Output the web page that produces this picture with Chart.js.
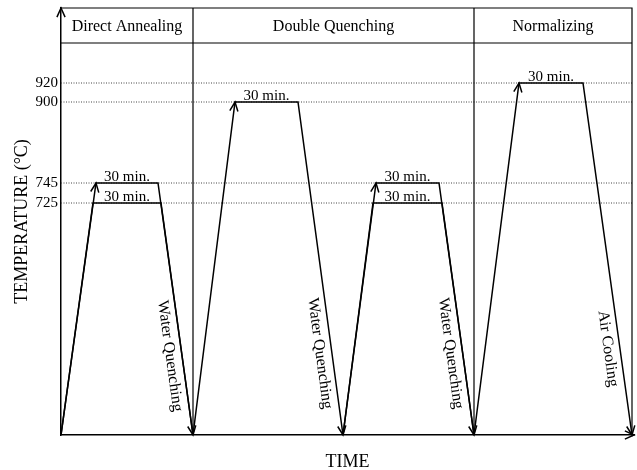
<!DOCTYPE html>
<html>
<head>
<meta charset="utf-8">
<script src="https://cdn.jsdelivr.net/npm/chart.js@4.4.1/dist/chart.umd.min.js"></script>
<style>
  html, body { margin: 0; padding: 0; background: #fff; }
  #wrap { width: 637px; height: 470px; }
</style>
</head>
<body>
<div id="wrap"><canvas id="heat"></canvas></div>
<script>
"use strict";

// temperature levels marked on the axis (°C)
const levels = [725, 745, 900, 920];
const levelLabels = ["725", "745", "900", "920"];
// the axis is schematic, not to scale: height of each level above the time axis
const levelPos = [232, 252, 333, 352];
const startTemp = 25;

const phases = ["Direct Annealing", "Double Quenching", "Normalizing"];
const phaseEdges = [0, 132, 413, 571];

// time points (arbitrary units) and temperatures of each cycle
const daTime = [0, 35, 97, 132];
const daTemp = [startTemp, 745, 745, startTemp];
const daLowTime = [0, 32, 100, 132];
const daLowTemp = [startTemp, 725, 725, startTemp];
const dq1Time = [132, 174, 237, 282];
const dq1Temp = [startTemp, 900, 900, startTemp];
const dq2Time = [282, 315, 378, 413];
const dq2Temp = [startTemp, 745, 745, startTemp];
const dq2LowTime = [282, 312, 381, 413];
const dq2LowTemp = [startTemp, 725, 725, startTemp];
const nTime = [413, 458, 522, 571];
const nTemp = [startTemp, 920, 920, startTemp];

const holdText = "30 min.";

const serif = '"Liberation Serif", "Times New Roman", serif';
Chart.defaults.font.family = serif;
Chart.defaults.color = "#000";

// piecewise map temperature -> axis height
const knotT = [startTemp].concat(levels);
const knotP = [0].concat(levelPos);
function sy(t) {
  for (let i = 1; i < knotT.length; i++) {
    if (t <= knotT[i]) {
      const f = (t - knotT[i - 1]) / (knotT[i] - knotT[i - 1]);
      return knotP[i - 1] + f * (knotP[i] - knotP[i - 1]);
    }
  }
  return knotP[knotP.length - 1];
}

function cycle(time, temp, extra) {
  return Object.assign({
    data: time.map((x, i) => ({ x: x, y: sy(temp[i]) })),
    showLine: true,
    borderColor: "#000",
    borderWidth: 1.5,
    pointRadius: 0,
    tension: 0,
    fill: false,
  }, extra);
}

const datasets = [
  cycle(daTime, daTemp, { arrows: true, hold: holdText, cool: "Water Quenching", coolAt: 0.68 }),
  cycle(daLowTime, daLowTemp, { hold: holdText }),
  cycle(dq1Time, dq1Temp, { arrows: true, hold: holdText, cool: "Water Quenching", coolAt: 0.75 }),
  cycle(dq2Time, dq2Temp, { arrows: true, hold: holdText, cool: "Water Quenching", coolAt: 0.67 }),
  cycle(dq2LowTime, dq2LowTemp, { hold: holdText }),
  cycle(nTime, nTemp, { arrows: true, hold: holdText, cool: "Air Cooling", coolAt: 0.75 }),
];

// dotted reference lines at each level
levels.forEach((t) => {
  datasets.push({
    data: [{ x: phaseEdges[0], y: sy(t) }, { x: phaseEdges[3], y: sy(t) }],
    showLine: true,
    borderColor: "#444",
    borderWidth: 1,
    borderDash: [1, 1.5],
    pointRadius: 0,
  });
});

function arrowHead(ctx, x0, y0, x1, y1) {
  const a = Math.atan2(y1 - y0, x1 - x0);
  const len = 10, spread = 0.42;
  ctx.beginPath();
  ctx.moveTo(x1 - len * Math.cos(a - spread), y1 - len * Math.sin(a - spread));
  ctx.lineTo(x1, y1);
  ctx.lineTo(x1 - len * Math.cos(a + spread), y1 - len * Math.sin(a + spread));
  ctx.stroke();
}

const schematic = {
  id: "schematic",
  afterDatasetsDraw(chart) {
    const ctx = chart.ctx;
    const area = chart.chartArea;
    const xs = chart.scales.x;
    const headBottom = area.top + 35;
    const right = xs.getPixelForValue(phaseEdges[3]);

    ctx.save();
    ctx.strokeStyle = "#000";
    ctx.fillStyle = "#000";
    ctx.lineWidth = 1.2;

    // frame and phase dividers
    ctx.beginPath();
    ctx.moveTo(area.left, area.top);
    ctx.lineTo(right, area.top);
    ctx.lineTo(right, area.bottom);
    ctx.moveTo(area.left, headBottom);
    ctx.lineTo(right, headBottom);
    [phaseEdges[1], phaseEdges[2]].forEach((t) => {
      const px = xs.getPixelForValue(t);
      ctx.moveTo(px, area.top);
      ctx.lineTo(px, area.bottom);
    });
    ctx.stroke();

    ctx.font = "16px " + serif;
    ctx.textAlign = "center";
    ctx.textBaseline = "middle";
    phases.forEach((p, i) => {
      const cx = (xs.getPixelForValue(phaseEdges[i]) + xs.getPixelForValue(phaseEdges[i + 1])) / 2;
      ctx.fillText(p, cx, (area.top + headBottom) / 2 + 1);
    });

    // axis arrows
    ctx.lineWidth = 1.5;
    arrowHead(ctx, area.left, area.bottom, area.left, area.top);
    arrowHead(ctx, area.left, area.bottom, area.right, area.bottom);

    chart.data.datasets.forEach((ds, di) => {
      const pts = chart.getDatasetMeta(di).data;
      if (ds.arrows) {
        arrowHead(ctx, pts[0].x, pts[0].y, pts[1].x, pts[1].y);
        arrowHead(ctx, pts[2].x, pts[2].y, pts[3].x, pts[3].y);
      }
      if (ds.hold) {
        ctx.font = "15px " + serif;
        ctx.textBaseline = "alphabetic";
        ctx.fillText(ds.hold, (pts[1].x + pts[2].x) / 2, pts[1].y - 2);
      }
      if (ds.cool) {
        // label runs along the cooling line, 12px to its left
        const a = Math.atan2(pts[3].y - pts[2].y, pts[3].x - pts[2].x);
        const f = ds.coolAt;
        const lx = pts[2].x + f * (pts[3].x - pts[2].x) - 12 * Math.sin(a);
        const ly = pts[2].y + f * (pts[3].y - pts[2].y) + 12 * Math.cos(a);
        ctx.save();
        ctx.translate(lx, ly);
        ctx.rotate(a);
        ctx.font = "16px " + serif;
        ctx.textBaseline = "middle";
        ctx.fillText(ds.cool, 0, 0);
        ctx.restore();
      }
    });
    ctx.restore();
  },
};

new Chart(document.getElementById("heat"), {
  type: "scatter",
  data: { datasets: datasets },
  options: {
    responsive: true,
    maintainAspectRatio: false,
    animation: false,
    layout: { padding: { top: 8, right: 3, left: 0, bottom: 0 } },
    plugins: { legend: { display: false }, tooltip: { enabled: false } },
    scales: {
      x: {
        type: "linear",
        min: 0,
        max: 573,
        grid: { display: false, drawTicks: false },
        ticks: { display: false },
        border: { display: true, color: "#000", width: 1.5 },
        title: {
          display: true,
          text: "TIME",
          color: "#000",
          font: { size: 18, lineHeight: 0.9 },
          padding: { top: 0, bottom: 0 },
        },
        afterFit: (s) => { s.height = 35; s.paddingLeft = 0; s.paddingRight = 0; },
      },
      y: {
        type: "linear",
        min: 0,
        max: 427,
        afterBuildTicks: (s) => { s.ticks = levels.map((t) => ({ value: sy(t) })); },
        grid: { display: false, drawTicks: false },
        ticks: {
          autoSkip: false,
          padding: 3,
          color: "#000",
          font: { size: 15 },
          callback: (v, i) => levelLabels[i],
        },
        border: { display: true, color: "#000", width: 1.5 },
        title: {
          display: true,
          text: "TEMPERATURE (°C)",
          color: "#000",
          font: { size: 18 },
          padding: { top: 11, bottom: 0 },
        },
        afterFit: (s) => { s.width = 61; s.paddingTop = 0; s.paddingBottom = 0; },
      },
    },
  },
  plugins: [schematic],
});
</script>
</body>
</html>
